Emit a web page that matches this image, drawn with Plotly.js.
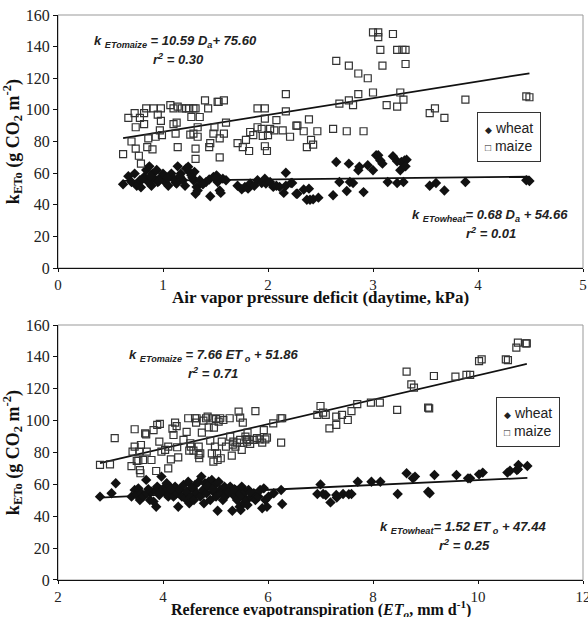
<!DOCTYPE html>
<html><head><meta charset="utf-8">
<script src="https://cdn.plot.ly/plotly-3.0.1.min.js"></script>
<style>body{margin:0;background:#fff}#chart{width:588px;height:617px}</style>
</head><body><div id="chart"></div>
<script>
// ---- Top panel: daytime air vapor pressure deficit (kPa) ----
const daWheat = [0.62,0.67,0.70,0.73,0.75,0.78,0.79,0.82,0.84,0.87,0.86,0.89,0.90,0.92,0.94,0.95,0.98,1.00,1.02,1.05,1.08,1.10,1.13,1.14,1.17,1.19,1.21,1.22,1.24,1.25,1.27,1.29,1.30,1.32,1.33,1.31,1.35,1.41,1.45,1.48,1.51,1.52,1.54,1.55,1.57,1.60,1.71,1.75,1.78,1.81,1.83,1.87,1.90,1.94,1.97,1.98,2.02,2.05,2.08,2.11,2.15,2.17,2.17,2.22,2.27,
  0.80,0.88,0.96,1.04,1.12,1.16,1.28,1.38,1.44,1.50,
  2.23,2.28,2.34,2.39,2.37,2.40,2.43,2.48,2.62,2.65,2.68,2.75,2.77,2.78,2.81,2.86,2.87,2.91,2.95,3.00,3.03,3.05,3.07,3.09,3.14,3.19,3.23,3.23,3.26,3.29,3.27,3.30,3.32,3.31,3.54,3.60,3.68,3.88,4.46,4.49];
const kWheatDa = [53,58,54.4,59.7,52,55.5,51,57.6,62,64.3,54.4,52,59.7,56.5,62,54.4,57.6,59.7,54.4,52,59.7,56.5,53.4,64.3,59.7,55.5,52,63,64,60.8,58.6,55.5,60.8,51.3,49,47,55.5,54.4,45.4,57.6,58.6,54.4,49,47.5,56.5,55.5,52,49.8,51.3,50.2,53.4,52,55.5,53.8,56.5,53.4,54.4,51.3,52,51.3,47.5,60.2,52,53.8,47,
  56,58,55,57,54,58,57,53,56,57,
  53.8,47,49.6,50.2,43.2,43.2,43.5,44.5,46,67,54.4,48.7,66,54.4,53.8,61.8,64,48,65,61.8,71.3,71.3,68,66,54.4,70.7,53.8,67.5,61.8,54.4,67,68,68.5,64.3,52,53.8,49,54.4,55.5,55];
const daMaize = [0.62,0.67,0.73,0.74,0.70,0.74,0.77,0.79,0.78,0.82,0.84,0.82,0.86,0.85,0.90,0.91,0.95,0.98,0.98,0.93,0.99,0.97,1.07,1.10,1.10,1.13,1.14,1.12,1.14,1.18,1.22,1.25,1.29,1.31,1.27,1.35,1.26,1.29,1.33,1.33,1.31,1.31,1.40,1.43,1.45,1.44,1.48,1.49,1.52,1.53,1.58,1.54,1.54,1.58,1.60,1.71,1.76,1.79,1.82,1.83,1.86,1.90,1.90,1.94,1.95,1.97,1.97,1.97,1.99,2.00,2.02,2.06,2.08,2.14,2.17,2.17,2.21,2.27,
  2.28,2.34,2.39,2.37,2.41,2.43,2.47,2.62,2.65,2.68,2.75,2.77,2.77,2.81,2.86,2.86,2.91,2.95,3.00,3.00,3.05,3.05,3.07,3.09,3.13,3.19,3.23,3.23,3.26,3.28,3.29,3.31,3.31,3.54,3.59,3.68,3.88,4.46,4.49];
const kMaizeDa = [72,95,98,89,80,75.5,71,66,95,98,101,91,82,76.5,75,101,97,101,93,83,84,87,103,101,91,92,102,85,76.5,101,101,101,101,101,95.5,95.5,84.4,85,89,83,75.5,69,106,101,79,76.5,85,89,105,105,106,82,70,85,92,79,76.5,81,74,86,84,101,89,88,83.5,101,94.5,77,74,84,88,87,93.5,87,110,99,83,90,
  90,86.5,94,76.5,81,78,86.5,88,131,104,86.5,128,106,103,123,110,86.5,120,111,149,149,146,138,128,103,148,102,138,111,138,106.5,138,129,98,101,95,106.5,108.6,108];

// ---- Bottom panel: reference evapotranspiration (mm/d) ----
const etoWheat = [2.80,3.02,3.10,3.40,3.46,3.50,3.53,3.56,3.59,3.62,3.68,3.69,3.75,3.78,3.82,3.85,3.87,3.89,3.93,3.97,4.01,4.04,4.07,4.10,4.13,4.17,4.20,4.23,4.26,4.29,4.32,4.36,4.39,4.42,4.45,4.48,4.50,4.53,4.57,4.59,4.61,4.64,4.68,4.71,4.73,4.76,4.78,4.80,4.83,4.87,4.90,4.91,4.93,4.96,4.99,5.01,5.04,5.06,5.09,5.12,5.14,5.17,5.18,5.22,5.28,5.32,5.34,5.38,5.41,5.44,5.46,5.48,5.50,5.52,5.54,5.57,5.60,5.61,5.63,5.69,5.73,5.76,5.82,5.85,5.89,5.92,5.95,5.98,6.01,6.11,6.25,6.27,
  3.72,3.95,4.15,4.55,4.85,4.95,5.25,5.36,5.66,
  7.00,6.94,7.05,7.10,7.19,7.30,7.31,7.43,7.54,7.59,7.71,7.97,8.14,8.47,8.64,8.76,8.80,9.05,9.08,9.17,9.59,9.81,9.85,10.02,10.09,10.56,10.61,10.76,10.77,10.94,10.74];
const kWheatEto = [52.3,54.4,60.7,52.3,56.5,53.3,57.5,50.2,54.4,52.3,62.8,54.4,50.2,55.4,49.2,56.5,46,58.6,53.3,64.9,57.5,55.4,60.7,52.3,58.6,55.4,52.3,58.6,54.4,46,56.5,52.3,59.6,51.3,55.4,61.7,48.1,52.3,57.5,50.2,59.6,54.4,61.7,52.3,64.9,56.5,48.1,60.7,54.4,61.7,50.2,58.6,62.8,55.4,59.6,52.3,43.5,61.7,56.5,54.4,50.2,58.6,52.3,55.4,58.6,43.5,53.3,56.5,50.2,55.4,46,43.9,58.6,52.3,48.1,55.4,50.2,47.1,56.5,52.3,54.4,50.2,52.3,56.5,45,57.5,50.2,46,52.3,54.4,56.5,47.7,
  57,55,57,58,59,57,55,57,55,
  60,54,54,53.3,48.7,53.3,51.7,54,53.8,54,61.7,61.7,61.7,54,67,63.8,64.9,55.4,54.4,65.9,65.9,63.8,63.8,66.3,67.4,67.4,68.6,69.5,72.2,71.5,69];
const etoMaize = [2.80,2.99,3.08,3.40,3.42,3.46,3.46,3.50,3.53,3.55,3.56,3.57,3.58,3.62,3.66,3.68,3.69,3.78,3.82,3.87,3.89,3.93,3.94,3.97,4.04,4.10,4.10,4.15,4.18,4.20,4.23,4.26,4.27,4.29,4.39,4.45,4.48,4.52,4.53,4.50,4.58,4.61,4.63,4.64,4.68,4.68,4.69,4.71,4.74,4.77,4.82,4.85,4.87,4.90,4.93,4.94,4.96,4.97,4.99,5.01,5.03,5.04,5.06,5.09,5.10,5.12,5.15,5.20,5.27,5.28,5.31,5.33,5.34,5.38,5.41,5.44,5.47,5.47,5.50,5.52,5.57,5.59,5.60,5.61,5.63,5.66,5.73,5.76,5.79,5.84,5.89,5.92,5.95,5.98,6.10,6.24,6.27,6.25,
  6.94,7.00,7.05,7.10,7.17,7.30,7.30,7.41,7.52,7.59,7.70,7.96,8.13,8.46,8.64,8.73,8.78,9.05,9.07,9.16,9.57,9.78,9.85,10.02,10.07,10.53,10.57,10.73,10.76,10.91,10.93];
const kMaizeEto = [72.2,72.6,89,71.5,80.5,94.6,83.7,74.7,75,80.5,69,67,84.7,75.3,92,91.4,80.5,75.3,94,68.4,97.3,86.8,98,80.5,81.6,83.7,70,75.7,95,91,98.7,96.6,83.3,77,87.9,93,101.5,85.8,83.7,81.2,81.2,101.5,98.7,101.5,83.7,78.5,76.4,79.5,92.5,100,101.5,102.5,95.8,87.4,79.5,101.5,74.3,95.6,83.7,101,79.5,75.3,99.4,101.5,76.4,86.8,100.4,83.7,101.5,90,78,85,86.8,83.7,86.2,105.6,87.9,101.9,81.6,98.7,90,88.3,86.8,92.5,87.9,85.4,87.9,106,89,88.3,86.2,94,88.3,89.3,98.3,101.5,101.5,86.2,
  103.6,109.2,105,103.6,95.2,97.3,102.5,103.6,100.4,106,110.3,111.3,111.3,106.7,130.8,122.8,120.7,108.2,107.7,128,127.6,128.7,128.7,137.4,138.5,138.5,138,145.8,149,148.5,148.5];

// regression fits [slope, intercept]
const fitMaizeDa = [10.59, 75.60];
const fitWheatDa = [0.68, 54.66];
const fitMaizeEto = [7.66, 51.86];
const fitWheatEto = [1.52, 47.44];

// legend labels
const seriesNames = ['wheat', 'maize'];

function lineTrace(xs, fit, xa, ya) {
  const x0 = Math.min(...xs), x1 = Math.max(...xs);
  return {x:[x0,x1], y:[fit[0]*x0+fit[1], fit[0]*x1+fit[1]], mode:'lines',
    line:{color:'#111', width:1.8}, showlegend:false, hoverinfo:'skip', xaxis:xa, yaxis:ya};
}
const wheatMk = {symbol:'diamond', size:8, color:'#111'};
const maizeMk = {symbol:'square-open', size:7, color:'#333', line:{width:1.2, color:'#333'}};

const traces = [
  lineTrace(daMaize, fitMaizeDa, 'x', 'y'),
  lineTrace(daWheat, fitWheatDa, 'x', 'y'),
  {x:daWheat, y:kWheatDa, mode:'markers', name:seriesNames[0], marker:wheatMk, xaxis:'x', yaxis:'y', showlegend:false},
  {x:daMaize, y:kMaizeDa, mode:'markers', name:seriesNames[1], marker:maizeMk, xaxis:'x', yaxis:'y', showlegend:false},
  lineTrace(etoMaize, fitMaizeEto, 'x2', 'y2'),
  lineTrace(etoWheat, fitWheatEto, 'x2', 'y2'),
  {x:etoWheat, y:kWheatEto, mode:'markers', name:seriesNames[0], marker:wheatMk, xaxis:'x2', yaxis:'y2', showlegend:false},
  {x:etoMaize, y:kMaizeEto, mode:'markers', name:seriesNames[1], marker:maizeMk, xaxis:'x2', yaxis:'y2', showlegend:false}
];

const serif = 'Liberation Serif, Times New Roman, serif';
const sans = 'Liberation Sans, Arial, sans-serif';
const tickF = {family:serif, size:16, color:'#222'};
const xTickF = {family:serif, size:15, color:'#222'};
const titleF = {family:serif, size:17, color:'#111'};
const ytitle = 'k<sub>ETo</sub> (g CO<sub>2</sub> m<sup>-2</sup>)';
function xax(range, dtick, anchor) {
  return {range:range, dtick:dtick, anchor:anchor, showgrid:false, zeroline:false,
    showline:true, linecolor:'#111', linewidth:1, ticks:'outside', ticklen:3, tickcolor:'#111',
    ticklabeloverflow:'allow', tickfont:xTickF};
}
function yax(domain, anchor) {
  return {domain:domain, range:[0,160], dtick:20, anchor:anchor, showgrid:false, zeroline:false,
    showline:true, linecolor:'#111', linewidth:1, ticks:'outside', ticklen:4, tickcolor:'#111',
    ticklabeloverflow:'allow', tickfont:tickF, title:{text:'<b>'+ytitle+'</b>', font:{family:serif, size:18, color:'#111'}, standoff:2}};
}
const annF = {family:sans, size:13, color:'#222'};
function ann(text, xr, yr, xv, yv) {
  return {text:'<b><i>'+text+'</i></b>', xref:xr, yref:yr, x:xv, y:yv, showarrow:false, font:annF};
}
function xTitle(text, yPaper, shift, size) {
  return {text:'<b>'+text+'</b>', xref:'paper', yref:'paper', x:0.5, y:yPaper, yanchor:'middle', yshift:shift,
    showarrow:false, font:Object.assign({}, titleF, {size:size})};
}
function legendBox(xr, yr, xv, yv) {
  return {text:'<span style="font-size:9px">◆</span>&nbsp;' + seriesNames[0] + '<br><span style="font-size:10px">□</span>&nbsp;' + seriesNames[1],
    xref:xr, yref:yr, x:xv, y:yv, xanchor:'left', yanchor:'top', showarrow:false, align:'left', bgcolor:'#fff',
    bordercolor:'#333', borderwidth:1, borderpad:7, font:{family:sans, size:14, color:'#222'}};
}

const topDom = [0.5522, 1], botDom = [0, 0.4513];
const layout = {
  width:588, height:617, paper_bgcolor:'#fff', plot_bgcolor:'#fff',
  margin:{l:58, r:5, t:15, b:37},
  showlegend:false,
  xaxis: xax([0,5], 1, 'y'),
  yaxis: yax(topDom, 'x'),
  xaxis2: xax([2,12], 2, 'y2'),
  yaxis2: yax(botDom, 'x2'),
  shapes:[
    {type:'rect', xref:'x domain', yref:'y domain', x0:0, x1:1, y0:0, y1:1, line:{color:'#999', width:1}, layer:'below'},
    {type:'rect', xref:'x2 domain', yref:'y2 domain', x0:0, x1:1, y0:0, y1:1, line:{color:'#999', width:1}, layer:'below'}
  ],
  annotations:[
    xTitle('Air vapor pressure deficit (daytime, kPa)', topDom[0], -29, 17),
    xTitle('Reference evapotranspiration (<i>ET<sub>o</sub></i>, mm d<sup>-1</sup>)', botDom[0], -29, 16),
    ann('k <sub>ETomaize</sub> = 10.59 D<sub>a</sub>+ 75.60', 'x', 'y', 1.12, 143),
    ann('r<sup>2</sup> = 0.30', 'x', 'y', 1.15, 132),
    ann('k <sub>ETowheat</sub>= 0.68 D<sub>a</sub> + 54.66', 'x', 'y', 4.11, 33.5),
    ann('r<sup>2</sup> = 0.01', 'x', 'y', 4.12, 22),
    ann('k <sub>ETomaize</sub> = 7.66 ET<sub> o</sub> + 51.86', 'x2', 'y2', 4.97, 141),
    ann('r<sup>2</sup> = 0.71', 'x2', 'y2', 4.95, 130),
    ann('k <sub>ETowheat</sub>= 1.52 ET<sub> o</sub> + 47.44', 'x2', 'y2', 9.71, 33),
    ann('r<sup>2</sup> = 0.25', 'x2', 'y2', 9.75, 22),
    legendBox('x domain', 'y domain', 0.798, 0.616),
    legendBox('x2 domain', 'y2 domain', 0.834, 0.717)
  ]
};
Plotly.newPlot('chart', traces, layout, {displayModeBar:false, staticPlot:true});
</script></body></html>
